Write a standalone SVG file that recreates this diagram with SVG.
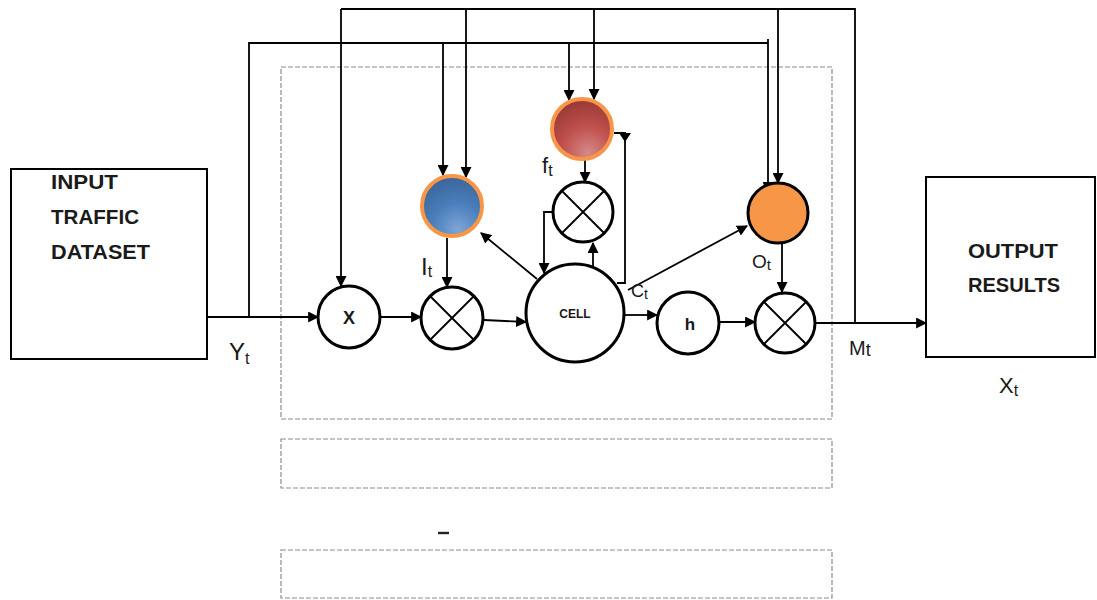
<svg xmlns="http://www.w3.org/2000/svg" width="1097" height="600" viewBox="0 0 1097 600">
<style>
.box{fill:#fff;stroke:#000;stroke-width:2}
.dash{fill:none;stroke:#8c8c8c;stroke-width:1.2;stroke-dasharray:5,2}
.op{fill:#fff;stroke:#000;stroke-width:3}
.ln{fill:none;stroke:#000;stroke-width:1.8}
.arr{fill:none;stroke:#000;stroke-width:1.8;marker-end:url(#ah)}
.bt{font-family:"Liberation Sans",Arial,sans-serif;font-weight:bold;fill:#1a1a1a}
.lb{font-family:"Liberation Sans",Arial,sans-serif;fill:#1a1a1a}
</style>
<defs>
<marker id="ah" viewBox="0 0 10 10" refX="9" refY="5" markerWidth="11" markerHeight="11" markerUnits="userSpaceOnUse" orient="auto">
<path d="M0,0 L10,5 L0,10 Z" fill="#000"/>
</marker>
<radialGradient id="gblue" cx="0.6" cy="0.85" r="0.95" fx="0.6" fy="0.9">
<stop offset="0" stop-color="#7fa7d8"/>
<stop offset="0.45" stop-color="#4a7ebb"/>
<stop offset="1" stop-color="#365f91"/>
</radialGradient>
<radialGradient id="gred" cx="0.6" cy="0.85" r="0.95" fx="0.6" fy="0.9">
<stop offset="0" stop-color="#d48b89"/>
<stop offset="0.45" stop-color="#bf504d"/>
<stop offset="1" stop-color="#8f3331"/>
</radialGradient>
</defs>

<rect class="dash" x="281" y="67" width="551" height="352"/>
<rect class="dash" x="281" y="439" width="551" height="49"/>
<rect class="dash" x="281" y="550" width="551" height="48"/>
<line x1="438" y1="533" x2="449" y2="533" stroke="#222" stroke-width="2.4"/>

<g id="connectors">
<path class="ln" d="M855,323 V9 H341"/>
<path class="arr" d="M341,9 V286"/>
<path class="arr" d="M466,9 V177"/>
<path class="arr" d="M594,9 V99"/>
<path class="arr" d="M778,9 V183"/>
<path class="ln" d="M207,317 H249 V43 H768"/>
<path class="arr" d="M249,317 H318"/>
<path class="arr" d="M443,43 V175"/>
<path class="arr" d="M569,43 V100"/>
<path class="arr" d="M768,39 V192"/>
<path class="arr" d="M380,317 H421"/>
<path class="arr" d="M447,238 V287"/>
<path class="arr" d="M484,320 L526,322"/>
<path class="arr" d="M537,279 L481,233"/>
<path class="arr" d="M585,160 V182"/>
<path class="arr" d="M553,212 H544 V273"/>
<path class="arr" d="M593,266 V243"/>
<path class="ln" d="M617,283 H625 V133 H614"/>
<path d="M619,133 L631,133 L625,142 Z" fill="#000"/>
<path class="arr" d="M628,290 L747,226"/>
<path class="arr" d="M625,315 H657"/>
<path class="arr" d="M719,322 H755"/>
<path class="arr" d="M782,244 V292"/>
<path class="arr" d="M815,323 H926"/>
</g>

<g id="input">
<rect class="box" x="11" y="169" width="196" height="190"/>
<text class="bt" x="51" y="189" font-size="20" textLength="67" lengthAdjust="spacingAndGlyphs">INPUT</text>
<text class="bt" x="51" y="224" font-size="20" textLength="88" lengthAdjust="spacingAndGlyphs">TRAFFIC</text>
<text class="bt" x="51" y="259" font-size="20" textLength="99" lengthAdjust="spacingAndGlyphs">DATASET</text>
</g>

<g id="output">
<rect class="box" x="926" y="177" width="169" height="180"/>
<text class="bt" x="968" y="258" font-size="20" textLength="90" lengthAdjust="spacingAndGlyphs">OUTPUT</text>
<text class="bt" x="968" y="292" font-size="20" textLength="92" lengthAdjust="spacingAndGlyphs">RESULTS</text>
</g>

<g id="xnode">
<circle class="op" cx="349" cy="317" r="31"/>
<text class="bt" x="349" y="324" font-size="18" text-anchor="middle">X</text>
</g>

<g id="mult1">
<circle class="op" cx="452" cy="318" r="31"/>
<path class="ln" stroke-width="2.5" d="M430,296 L474,340 M474,296 L430,340"/>
</g>

<g id="cell">
<circle class="op" cx="575" cy="313" r="49"/>
<text class="bt" x="575" y="318" font-size="12" text-anchor="middle">CELL</text>
</g>

<g id="forgetmult">
<circle class="op" cx="583" cy="212" r="30"/>
<path class="ln" stroke-width="2.5" d="M562,191 L604,233 M604,191 L562,233"/>
</g>

<g id="hnode">
<circle class="op" cx="688" cy="323" r="31"/>
<text class="bt" x="690" y="330" font-size="17" text-anchor="middle">h</text>
</g>

<g id="mult2">
<circle class="op" cx="785" cy="323" r="30"/>
<path class="ln" stroke-width="2.5" d="M764,302 L806,344 M806,302 L764,344"/>
</g>

<g id="inputgate">
<circle cx="452" cy="206" r="30" fill="url(#gblue)" stroke="#f79646" stroke-width="4"/>
</g>

<g id="forgetgate">
<circle cx="582" cy="129" r="30" fill="url(#gred)" stroke="#f79646" stroke-width="4"/>
</g>

<g id="outputgate">
<circle cx="778" cy="213" r="30" fill="#f79646" stroke="#000" stroke-width="3"/>
</g>

<g id="labels">
<text class="lb" x="229" y="360" font-size="24">Y<tspan font-size="16" dy="4">t</tspan></text>
<text class="lb" x="421" y="275" font-size="24">I<tspan font-size="16" dy="2">t</tspan></text>
<text class="lb" x="542" y="173" font-size="22">f<tspan font-size="16" dy="3">t</tspan></text>
<text class="lb" x="752" y="268" font-size="19">O<tspan font-size="15" dy="2">t</tspan></text>
<text class="lb" x="631" y="297" font-size="18">C<tspan font-size="14" dy="2">t</tspan></text>
<text class="lb" x="849" y="355" font-size="20">M<tspan font-size="18" dy="1">t</tspan></text>
<text class="lb" x="999" y="393" font-size="22">X<tspan font-size="16" dy="3">t</tspan></text>
</g>
</svg>
